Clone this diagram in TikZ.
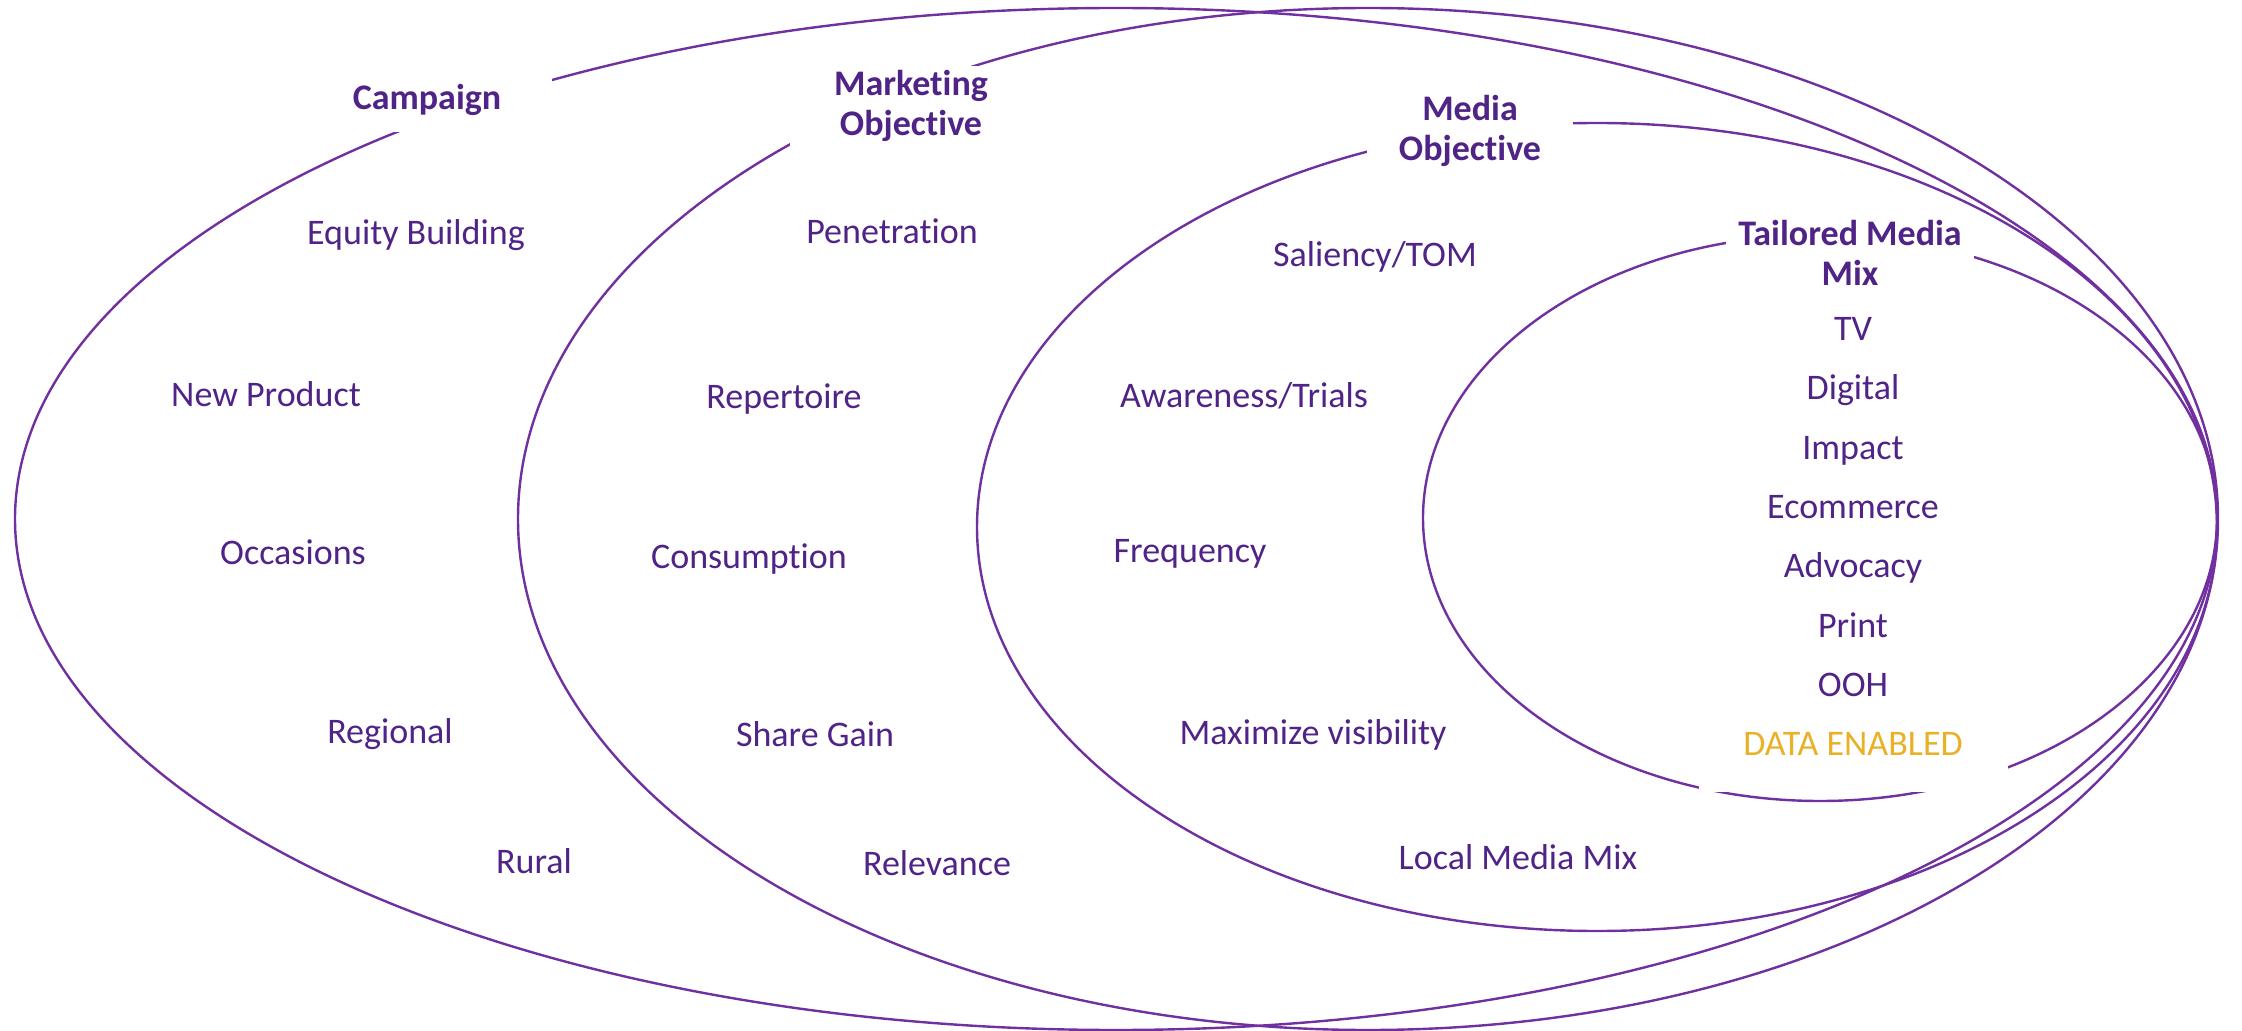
\documentclass[tikz,border=0pt]{standalone}
\usepackage{fontspec}
\setmainfont{Carlito}[Ligatures=NoCommon]
\definecolor{lineP}{RGB}{112,48,160}
\definecolor{txtP}{RGB}{80,35,135}
\definecolor{goldT}{RGB}{233,177,40}
\begin{document}
\begin{tikzpicture}[x=0.5pt,y=-0.5pt,
  ell/.style={draw=lineP, line width=1.2pt},
  lbl/.style={text=txtP, font=\fontsize{18}{20}\selectfont, text height=11.5pt, text depth=0pt, inner sep=0pt},
  head/.style={text=txtP, font=\fontsize{18}{20}\selectfont\bfseries, align=center, fill=white, inner sep=0pt},
]
\useasboundingbox (0,0) rectangle (2242,1031);
% ellipses
\draw[ell] (1116,519) ellipse [x radius=550.5pt, y radius=255.5pt];
\draw[ell] (1368,519) ellipse [x radius=425pt, y radius=255.5pt];
\draw[ell] (1597,527) ellipse [x radius=310pt, y radius=202pt];
\draw[ell] (1820,518) ellipse [x radius=198.5pt, y radius=141.5pt];
% headers
\node[head, minimum width=125pt, minimum height=32pt] (campaign) at (427,100) {Campaign};
\node[head, minimum width=121pt, minimum height=40pt] (mktobj) at (911,106) {Marketing\\Objective};
\node[head, minimum width=103pt, minimum height=40pt] (medobj) at (1470,131) {Media\\Objective};
\node[head, minimum width=124pt, minimum height=40pt] (tailored) at (1850,253) {Tailored Media\\Mix};
% campaign items
\node[lbl] (equity) at (416,233) {Equity Building};
\node[lbl] (newprod) at (266,395) {New Product};
\node[lbl] (occ) at (293,553) {Occasions};
\node[lbl] (regional) at (390,732) {Regional};
\node[lbl] (rural) at (534,862) {Rural};
% marketing items
\node[lbl] (pen) at (892,232) {Penetration};
\node[lbl] (rep) at (784,397) {Repertoire};
\node[lbl] (cons) at (749,557) {Consumption};
\node[lbl] (share) at (815,735) {Share Gain};
\node[lbl] (relev) at (937,864) {Relevance};
% media items
\node[lbl] (sal) at (1375,255) {Saliency/TOM};
\node[lbl] (aware) at (1244,396) {Awareness/Trials};
\node[lbl] (freq) at (1190,551) {Frequency};
\node[lbl] (maxvis) at (1313,733) {Maximize visibility};
\node[lbl] (local) at (1518,858) {Local Media Mix};
% tailored list
\node[lbl, text=goldT, fill=white, minimum width=154.5pt, minimum height=48pt] (data) at (1853,744) {DATA ENABLED};
\node[lbl] (tv) at (1853,329) {TV};
\node[lbl] (digital) at (1853,388) {Digital};
\node[lbl] (impact) at (1853,448) {Impact};
\node[lbl] (ecom) at (1853,507) {Ecommerce};
\node[lbl] (advo) at (1853,566) {Advocacy};
\node[lbl] (print) at (1853,626) {Print};
\node[lbl] (ooh) at (1853,685) {OOH};
\end{tikzpicture}
\end{document}
